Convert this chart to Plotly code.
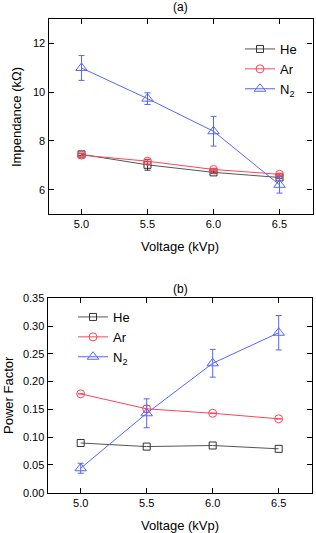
import plotly.graph_objects as go
from plotly.subplots import make_subplots

voltage = [5.0, 5.5, 6.0, 6.5]

# Panel (a) impedance (kOhm)
imp_he = [7.45, 7.02, 6.71, 6.50]
imp_he_err = [0.05, 0.22, 0.05, 0.05]
imp_ar = [7.42, 7.17, 6.83, 6.63]
imp_ar_err = [0.05, 0.08, 0.05, 0.05]
imp_n2 = [11.0, 9.74, 8.40, 6.20]
imp_n2_err = [0.51, 0.24, 0.61, 0.34]

# Panel (b) power factor
pf_he = [0.0895, 0.083, 0.085, 0.079]
pf_ar = [0.178, 0.151, 0.143, 0.133]
pf_ar_err = [0.0, 0.006, 0.0, 0.0]
pf_n2 = [0.044, 0.143, 0.233, 0.288]
pf_n2_err = [0.009, 0.026, 0.025, 0.031]

colors = {"He": "#333333", "Ar": "#ff4455", "N2": "#5566ff"}
line_colors = {"He": "#555555", "Ar": "#ff4455", "N2": "#5566ff"}
symbols = {"He": "square-open", "Ar": "circle-open", "N2": "triangle-up-open"}
sizes = {"He": 7, "Ar": 8, "N2": 10}

fig = make_subplots(rows=2, cols=1)

def add(series, err, key, name, row, legend):
    fig.add_trace(go.Scatter(
        x=voltage, y=series, name=name, mode="lines+markers",
        line=dict(color=line_colors[key], width=1),
        marker=dict(symbol=symbols[key], size=sizes[key], color=colors[key],
                    line=dict(width=1, color=colors[key])),
        error_y=dict(type="data", array=err if err is not None else [0, 0, 0, 0],
                     visible=err is not None, color=colors[key], thickness=1, width=3),
        legend=legend, showlegend=True,
    ), row=row, col=1)

add(imp_he, imp_he_err, "He", "He", 1, "legend")
add(imp_ar, imp_ar_err, "Ar", "Ar", 1, "legend")
add(imp_n2, imp_n2_err, "N2", "N<sub>2</sub>", 1, "legend")
add(pf_he, None, "He", "He", 2, "legend2")
add(pf_ar, pf_ar_err, "Ar", "Ar", 2, "legend2")
add(pf_n2, pf_n2_err, "N2", "N<sub>2</sub>", 2, "legend2")

font = "Liberation Sans, Arial, sans-serif"
axis_common = dict(showline=True, linecolor="black", linewidth=1.3, mirror="ticks",
                   ticks="inside", ticklen=5, tickcolor="black", showgrid=False, zeroline=False,
                   automargin=False,
                   tickfont=dict(family=font, size=11, color="black"))

W, H = 316, 533
def px(x):
    return x / W
def py(y):
    return 1 - y / H

xt = ["5.0", "5.5", "6.0", "6.5"]

def ann(text, x, y, size, angle=0):
    return dict(text=text, x=px(x), y=py(y), xref="paper", yref="paper", showarrow=False,
                xanchor="center", yanchor="middle", textangle=angle,
                font=dict(size=size, family=font, color="black"))

fig.update_layout(
    width=W, height=H, margin=dict(l=0, r=0, t=0, b=0, autoexpand=False),
    paper_bgcolor="white", plot_bgcolor="white",
    font=dict(family=font, color="black"),
    xaxis=dict(domain=[px(48.5), px(312.5)], range=[4.75, 6.75], tickvals=voltage, ticktext=xt, anchor="y", **axis_common),
    yaxis=dict(domain=[py(214), py(19.3)], range=[5, 13], tickvals=[6, 8, 10, 12], anchor="x", **axis_common),
    xaxis2=dict(domain=[px(47.7), px(311.7)], range=[4.75, 6.75], tickvals=voltage, ticktext=xt, anchor="y2", **axis_common),
    yaxis2=dict(domain=[py(492.7), py(298.3)], range=[0, 0.35], dtick=0.05, tickformat=".2f", anchor="x2", **axis_common),
    legend=dict(x=px(240), y=py(34), xanchor="left", yanchor="top", bgcolor="rgba(0,0,0,0)",
                font=dict(family=font, size=13, color="black"), tracegroupgap=0, itemwidth=30),
    legend2=dict(x=px(73), y=py(302), xanchor="left", yanchor="top", bgcolor="rgba(0,0,0,0)",
                 font=dict(family=font, size=13, color="black"), tracegroupgap=0, itemwidth=30),
    annotations=[
        ann("(a)", 180, 7, 12),
        ann("(b)", 180, 289, 12),
        ann("Voltage (kVp)", 180, 247, 13),
        ann("Voltage (kVp)", 180, 525, 13),
        ann("Impendance (kΩ)", 17, 117, 13, -90),
        ann("Power Factor", 8, 395, 13, -90),
    ],
)

fig.write_html("out.html", config={"displayModeBar": False},
               post_script="document.body.style.margin='0';document.body.style.overflow='hidden';")
